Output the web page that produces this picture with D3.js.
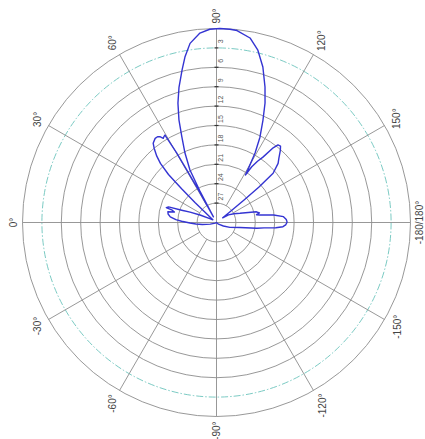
<!DOCTYPE html>
<html>
<head>
<meta charset="utf-8">
<script src="https://cdn.jsdelivr.net/npm/d3@7"></script>
<style>
  html, body { margin: 0; padding: 0; background: #fff; }
  svg { display: block; }
</style>
</head>
<body>
<svg id="chart" width="425" height="439"></svg>
<script>
// ---- data (angle in degrees: 0 = left, 90 = top, 180 = right; gain in dB relative) ----
const angles = [
  -180, -178, -176.4, -175, -173.5, -171.8, -168, -160, -153, -140, -120, -90, -60, -30, -15, -8, -4, -1,
  2, 4, 7, 10, 12.5, 14, 15.5, 16.5, 18, 19.5, 21.5, 24.5, 30, 36, 41, 43, 44, 45, 46.5, 48, 50, 51.4,
  53.9, 55.5, 56.6, 57.7, 58.7, 59.5, 60.2, 60.5, 61, 61.6, 62.2, 63.2, 65.6, 68, 69.9, 72.1, 74.5,
  77.3, 79.2, 81.6, 85, 88, 91, 94, 96.1, 100.3, 103.5, 106.6, 109.7, 112.1, 114.4, 117, 119, 120.5,
  121.3, 122.3, 123.8, 125.4, 127.2, 128.4, 130, 131.5, 134, 136.2, 139, 140.2, 140.8, 141.5, 143,
  147.6, 153, 158.6, 165, 167.5, 169, 170.2, 172.5, 175, 177.5, 179.3
];
const gains = [
  -19.1, -19.3, -19.7, -20.8, -22.6, -23.7, -26.3, -27.8, -28.8, -29.6, -30, -30, -30, -29.8, -29, -27.8, -26.8, -25.9,
  -24.6, -23.7, -22.8, -22.4, -22.3, -23.3, -22.9, -21.9, -22.2, -24.3, -25.6, -27.2, -28.8, -29.3, -28.5, -25.5, -22.5, -19.5, -17.4, -16.2, -15.0, -14.3,
  -13.9, -13.9, -14.1, -14.6, -14.4, -14.3, -17.6, -20.7, -24.5, -29, -24.5, -20.9, -18.2, -15.7, -13.1, -10.6, -8.3,
  -5.8, -3.95, -2.0, -0.6, -0.1, 0, -0.05, -0.15, -1.0, -2.6, -4.9, -7.75, -10.05, -12.6, -15.2, -17.7, -20.2,
  -21.4, -19.8, -18.6, -17.6, -15.5, -14.7, -14.6, -15.1, -16.1, -16.8, -18.4, -21.5, -24.5, -27.5, -28.8,
  -27.8, -27, -26.1, -23.6, -23.2, -23.7, -23.2, -21.1, -19.6, -19.2, -19.1
];
const ringLevels = [0, -3, -6, -9, -12, -15, -18, -21, -24, -27];
const ringLabels = ["3", "6", "9", "12", "15", "18", "21", "24", "27"];
const spokeAngles = [0, 30, 60, 90, 120, 150, 180, -150, -120, -90, -60, -30];
const spokeLabels = ["0°", "30°", "60°", "90°", "120°", "150°", "-180/180°", "-150°", "-120°", "-90°", "-60°", "-30°"];

// ---- layout ----
const cx = 216.5, cy = 222.5, R = 194;
const svg = d3.select("#chart");
const g = svg.append("g").attr("transform", `translate(${cx},${cy})`);
const r = d3.scaleLinear().domain([-30, 0]).range([0, R]).clamp(true);
const toRad = d => d * Math.PI / 180;
const px = (deg, rad) => -rad * Math.cos(toRad(deg));
const py = (deg, rad) => -rad * Math.sin(toRad(deg));

// rings
g.selectAll("circle.ring").data(ringLevels).enter().append("circle")
  .attr("class", "ring")
  .attr("r", d => r(d))
  .attr("fill", "none")
  .attr("stroke", d => d === -3 ? "#6cc4bc" : "#8c8c8c")
  .attr("stroke-width", 0.9)
  .attr("stroke-dasharray", d => d === -3 ? "7,2,1.5,2" : null);

// spokes
g.selectAll("line.spoke").data(spokeAngles).enter().append("line")
  .attr("class", "spoke")
  .attr("x1", d => (Math.abs(d) % 90 === 0) ? 0 : px(d, r(-27)))
  .attr("y1", d => (Math.abs(d) % 90 === 0) ? 0 : py(d, r(-27)))
  .attr("x2", d => px(d, R))
  .attr("y2", d => py(d, R))
  .attr("stroke", "#8c8c8c")
  .attr("stroke-width", 0.9);

// ticks on the vertical axis
g.selectAll("line.tick").data(ringLevels.slice(1)).enter().append("line")
  .attr("class", "tick")
  .attr("x1", -2).attr("x2", 2)
  .attr("y1", d => -r(d)).attr("y2", d => -r(d))
  .attr("stroke", "#333").attr("stroke-width", 1.2);

// ring labels
g.selectAll("text.rl").data(ringLabels).enter().append("text")
  .attr("class", "rl")
  .attr("transform", d => `translate(${3.8},${-r(-(+d)) - 6.5}) rotate(-90)`)
  .attr("text-anchor", "middle")
  .attr("dominant-baseline", "central")
  .attr("font-family", "Liberation Sans, Arial, sans-serif")
  .attr("font-size", 7)
  .attr("fill", "#555")
  .text(d => d);

// spoke labels
const lbl = g.selectAll("text.sl").data(spokeAngles).enter().append("text")
  .attr("class", "sl")
  .attr("text-anchor", "middle")
  .attr("dominant-baseline", "central")
  .attr("font-family", "Liberation Sans, Arial, sans-serif")
  .attr("font-size", 10)
  .attr("fill", "#444")
  .text((d, i) => spokeLabels[i]);
lbl.each(function(d) {
  const len = this.getComputedTextLength();
  const a = toRad(d);
  const off = R + 5 + (len / 2) * Math.abs(Math.sin(a)) + 4 * Math.abs(Math.cos(a));
  d3.select(this).attr("transform", `translate(${px(d, off)},${py(d, off)}) rotate(-90)`);
});

// pattern curve
const pts = angles.map((a, i) => [a, gains[i]]);
const line = d3.lineRadial()
  .angle(d => toRad(d[0] - 90))
  .radius(d => r(d[1]))
  .curve(d3.curveLinearClosed);
g.append("path")
  .attr("d", line(pts))
  .attr("fill", "none")
  .attr("stroke", "#3434d2")
  .attr("stroke-width", 1.4)
  .attr("stroke-linejoin", "round");
</script>
</body>
</html>
